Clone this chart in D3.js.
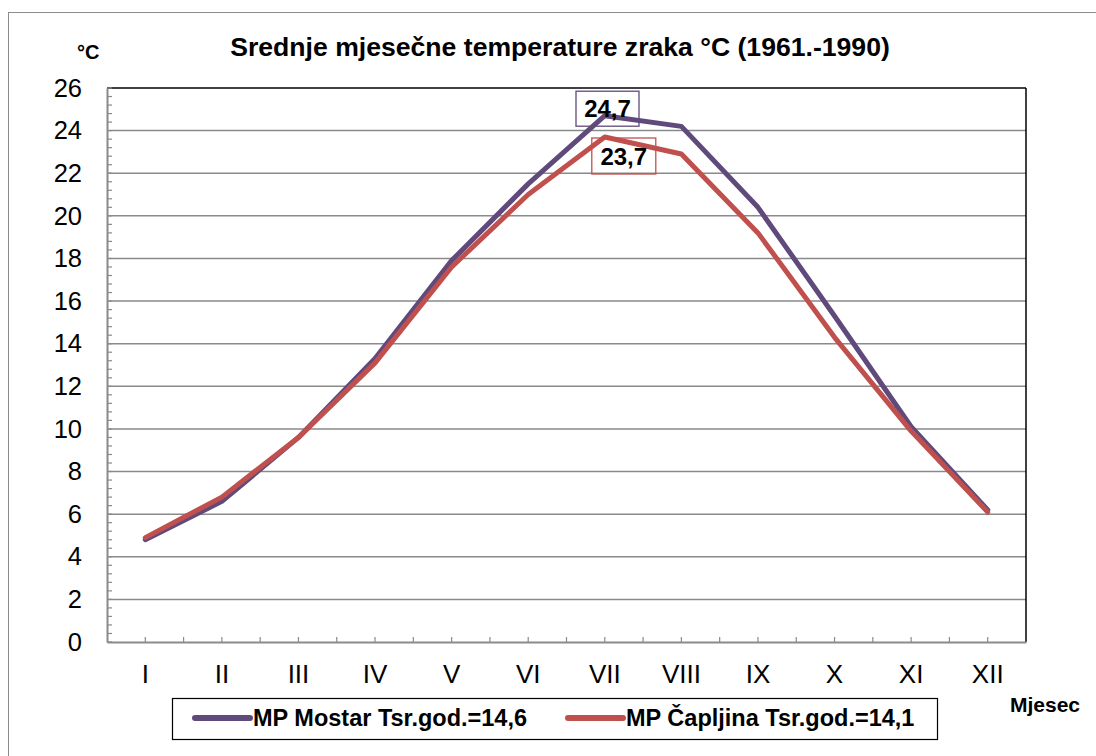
<!DOCTYPE html>
<html><head><meta charset="utf-8">
<script src="https://cdn.jsdelivr.net/npm/d3@7"></script>
<style>body{margin:0;background:#fff}svg{display:block;font-family:Arial,"Liberation Sans",sans-serif}</style>
</head><body><svg id="c" width="1096" height="756"></svg>
<script>
const months = ["I","II","III","IV","V","VI","VII","VIII","IX","X","XI","XII"];
const mostar = [4.8,6.6,9.6,13.3,17.9,21.5,24.7,24.2,20.4,15.3,10.1,6.2];
const capljina = [4.9,6.8,9.6,13.1,17.6,21.0,23.7,22.9,19.2,14.3,9.9,6.1];
const yTicks = [0,2,4,6,8,10,12,14,16,18,20,22,24,26];
const seriesNames = ["MP Mostar Tsr.god.=14,6","MP Čapljina Tsr.god.=14,1"];
const colors = ["#604A7B","#C0504D"];
const FF = "Arial,'Liberation Sans',sans-serif";

const svg = d3.select("#c");
const L=107, R=1026, T=88, B=642;
const x = d3.scaleBand().domain(months).range([L,R]).padding(0);
const y = d3.scaleLinear().domain([0,26]).range([B,T]);

svg.append("rect").attr("x",8.5).attr("y",12.5).attr("width",1100).attr("height",760)
  .attr("fill","#fff").attr("stroke","#8c8c8c").attr("stroke-width",1);

// gridlines
svg.append("g").selectAll("line").data(yTicks.filter(d=>d>0&&d<26)).join("line")
  .attr("x1",L).attr("x2",R).attr("y1",d=>y(d)).attr("y2",d=>y(d))
  .attr("stroke","#8a8a8a").attr("stroke-width",1.5);
// plot border top/right black
svg.append("line").attr("x1",L).attr("x2",R).attr("y1",y(26)).attr("y2",y(26)).attr("stroke","#000").attr("stroke-width",1.5);
svg.append("line").attr("x1",R).attr("x2",R).attr("y1",y(26)).attr("y2",B).attr("stroke","#000").attr("stroke-width",1.5);

// minor y ticks (every 0.4) pointing inward
const minor = d3.range(0,26.01,0.4);
svg.append("g").selectAll("line").data(minor).join("line")
  .attr("x1",L).attr("x2",L+5).attr("y1",d=>y(d)).attr("y2",d=>y(d))
  .attr("stroke","#8a8a8a").attr("stroke-width",1.2);

// y axis
const yAxis = d3.axisLeft(y).tickValues(yTicks).tickSize(0).tickPadding(25);
const gy = svg.append("g").attr("transform",`translate(${L},0)`).call(yAxis);
gy.select(".domain").attr("stroke","#8a8a8a").attr("stroke-width",2);
gy.selectAll("text").attr("font-size",25.5).attr("fill","#000").attr("font-family",FF);

// x axis
const xAxis = d3.axisBottom(x).tickSize(0).tickPadding(22.5);
const gx = svg.append("g").attr("transform",`translate(0,${B})`).call(xAxis);
gx.select(".domain").attr("stroke","#8a8a8a").attr("stroke-width",2);
gx.selectAll("text").attr("font-size",26).attr("fill","#000").attr("font-family",FF);
// x minor ticks at centers and boundaries pointing up
const xt = [];
months.forEach((m,i)=>{ xt.push(x(m)); xt.push(x(m)+x.bandwidth()/2); });
svg.append("g").selectAll("line").data(xt.slice(1)).join("line")
  .attr("x1",d=>d).attr("x2",d=>d).attr("y1",B).attr("y2",B-5)
  .attr("stroke","#8a8a8a").attr("stroke-width",1.2);

// lines
const line = d3.line().x((d,i)=>x(months[i])+x.bandwidth()/2).y(d=>y(d));
[mostar,capljina].forEach((s,k)=>{
  svg.append("path").datum(s).attr("d",line).attr("fill","none")
    .attr("stroke",colors[k]).attr("stroke-width",5).attr("stroke-linejoin","round").attr("stroke-linecap","round");
});

// data labels
function label(val,cx,cy,col,w,h){
  svg.append("rect").attr("x",cx-w/2).attr("y",cy-h/2).attr("width",w).attr("height",h)
    .attr("fill","none").attr("stroke",col).attr("stroke-width",1.3);
  svg.append("text").attr("x",cx).attr("y",cy+8.5).attr("text-anchor","middle")
    .attr("font-size",24).attr("font-weight","bold").text(String(val).replace(".",","));
}
const iv = 6;
const cxv = x(months[iv])+x.bandwidth()/2;
label(mostar[iv], cxv+2.7, y(mostar[iv])-7, colors[0], 63, 35);
label(capljina[iv], cxv+19, y(capljina[iv])+19, colors[1], 64, 36);

// title
svg.append("text").attr("x",560).attr("y",56).attr("text-anchor","middle")
  .attr("font-size",26.6).attr("font-weight","bold").text("Srednje mjesečne temperature zraka °C (1961.-1990)");
svg.append("text").attr("x",77).attr("y",59).attr("font-size",20).attr("font-weight","bold").text("°C");
svg.append("text").attr("x",1010).attr("y",712).attr("font-size",21).attr("font-weight","bold").text("Mjesec");

// legend
svg.append("rect").attr("x",172.5).attr("y",698.5).attr("width",765).attr("height",41)
  .attr("fill","#fff").attr("stroke","#000").attr("stroke-width",1.2);
const legX = [195, 568];
seriesNames.forEach((n,k)=>{
  svg.append("line").attr("x1",legX[k]).attr("x2",legX[k]+55).attr("y1",718).attr("y2",718)
    .attr("stroke",colors[k]).attr("stroke-width",6).attr("stroke-linecap","round");
  svg.append("text").attr("x",legX[k]+58).attr("y",726).attr("font-size",23.5).attr("font-weight","bold").text(n);
});
</script></body></html>
